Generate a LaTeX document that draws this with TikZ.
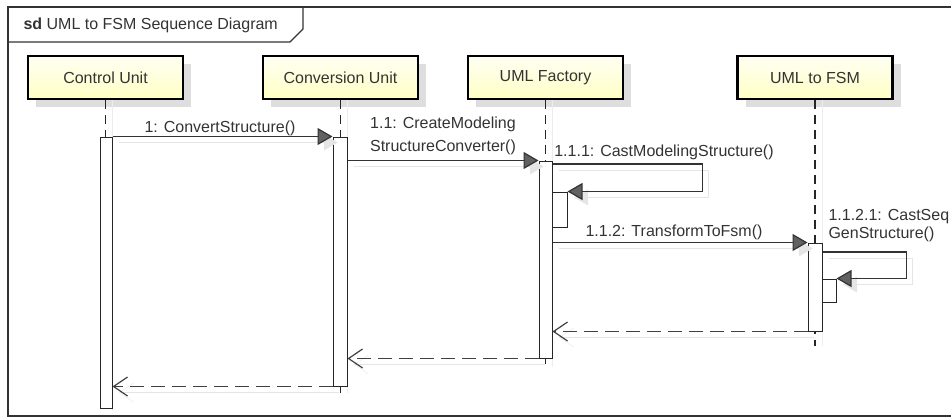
\documentclass[tikz,border=0pt]{standalone}
\usepackage{fontspec}
\setmainfont{Liberation Sans}
\usepackage{xcolor}
\usetikzlibrary{arrows.meta, shadows}

\definecolor{headtop}{HTML}{FFFFF4}
\definecolor{headbot}{HTML}{FFFFC4}
\definecolor{ink}{HTML}{333333}

\begin{document}
\begin{tikzpicture}[x=1pt, y=-1pt,
  every node/.style={font=\fontsize{16}{18}\selectfont, text=ink},
  head/.style={draw=black, line width=2.8pt, top color=headtop, bottom color=headbot,
    minimum width=155pt, minimum height=43pt, inner sep=0pt,
    drop shadow={shadow xshift=8pt, shadow yshift=-8pt, fill=black!13, opacity=1}},
  life/.style={draw=black!85, line width=1.2pt, dash pattern=on 9pt off 6pt},
  lifeshade/.style={draw=black!7, line width=1pt},
  bar/.style={draw=black!85, fill=white, line width=1pt, minimum width=13pt, inner sep=0pt},
  msg/.style={draw=black!80, line width=1.2pt, -{Triangle[length=15pt, width=17pt, fill=black!62]},
    preaction={draw=black!10, -{Triangle[length=15pt, width=17pt, fill=black!10]},
      transform canvas={shift={(6pt,-6pt)}}}},
  retn/.style={draw=black!75, line width=1.2pt, dash pattern=on 14pt off 7pt,
    -{Straight Barb[length=14pt, width=19pt]},
    preaction={draw=black!10, solid, transform canvas={shift={(6pt,-6pt)}}}}]
  \clip (0,0) rectangle (951,418);

  % Frame and title tab
  \draw[draw=ink, line width=1.5pt] (8,7) rectangle (970,416);
  \draw[draw=ink, line width=1.2pt] (8,42) -- (290,42) -- (303,29) -- (303,7);
  \node[anchor=west] (title) at (20,25) {\textbf{sd} UML to FSM Sequence Diagram};

  % Lifeline heads
  \foreach \nm/\x/\txt in {cu/105.5/Control Unit, conv/340.5/Conversion Unit,
      fac/545.5/UML Factory, fsm/815/UML to FSM}
    \node[head] (\nm) at (\x,77.5) {\txt};

  % Lifelines
  \foreach \nm/\yend in {cu/411, conv/393, fac/367, fsm/346} {
    \draw[lifeshade] ([xshift=7pt]\nm.south) -- ([xshift=7pt]\nm.south |- 0,\yend);
    \draw[life] (\nm.south) -- (\nm.south |- 0,\yend);
  }

  % Activation bars
  \node[bar, minimum width=12pt, minimum height=271pt] (cuBar) at (106,272.5) {};
  \node[bar, minimum width=14pt, minimum height=249pt] (convBar) at (340,261.5) {};
  \node[bar, minimum height=197pt] (facBar) at (545.5,259.5) {};
  \node[bar, minimum width=14pt, minimum height=88pt] (fsmBar) at (815,287) {};
  \node[bar, minimum width=15pt, minimum height=35pt] (facNest) at (559.5,209.5) {};
  \node[bar, minimum width=14pt, minimum height=23pt] (fsmNest) at (829,290.5) {};

  % Calls
  \draw[msg] (cuBar.north east) -- (convBar.north west);
  \node (lblA) at (220,128) {1: ConvertStructure()};

  \draw[msg] (convBar.east |- facBar.north) -- (facBar.north west);
  \node[align=center, font=\fontsize{16}{22.5}\selectfont] (lblB) at (443,136) {1.1: CreateModeling\\StructureConverter()};

  \draw[msg] (facBar.east |- 0,164) -- ++(150,0) |- (facNest.north east);
  \node (lblC) at (664,152) {1.1.1: CastModelingStructure()};

  \draw[msg] (facBar.east |- fsmBar.north) -- (fsmBar.north west);
  \node (lblD) at (674,232) {1.1.2: TransformToFsm()};

  \draw[msg] (fsmBar.east |- 0,252) -- ++(84,0) |- (fsmNest.north east);
  \node[align=left, anchor=west, font=\fontsize{16}{18}\selectfont] (lblE) at (825,226) {1.1.2.1: CastSeq\\GenStructure()};

  % Returns
  \draw[retn] (fsmBar.south west) -- (facBar.east |- fsmBar.south);
  \draw[retn] (facBar.south west) -- (convBar.east |- facBar.south);
  \draw[retn] (convBar.south west) -- (cuBar.east |- convBar.south);
\end{tikzpicture}
\end{document}
